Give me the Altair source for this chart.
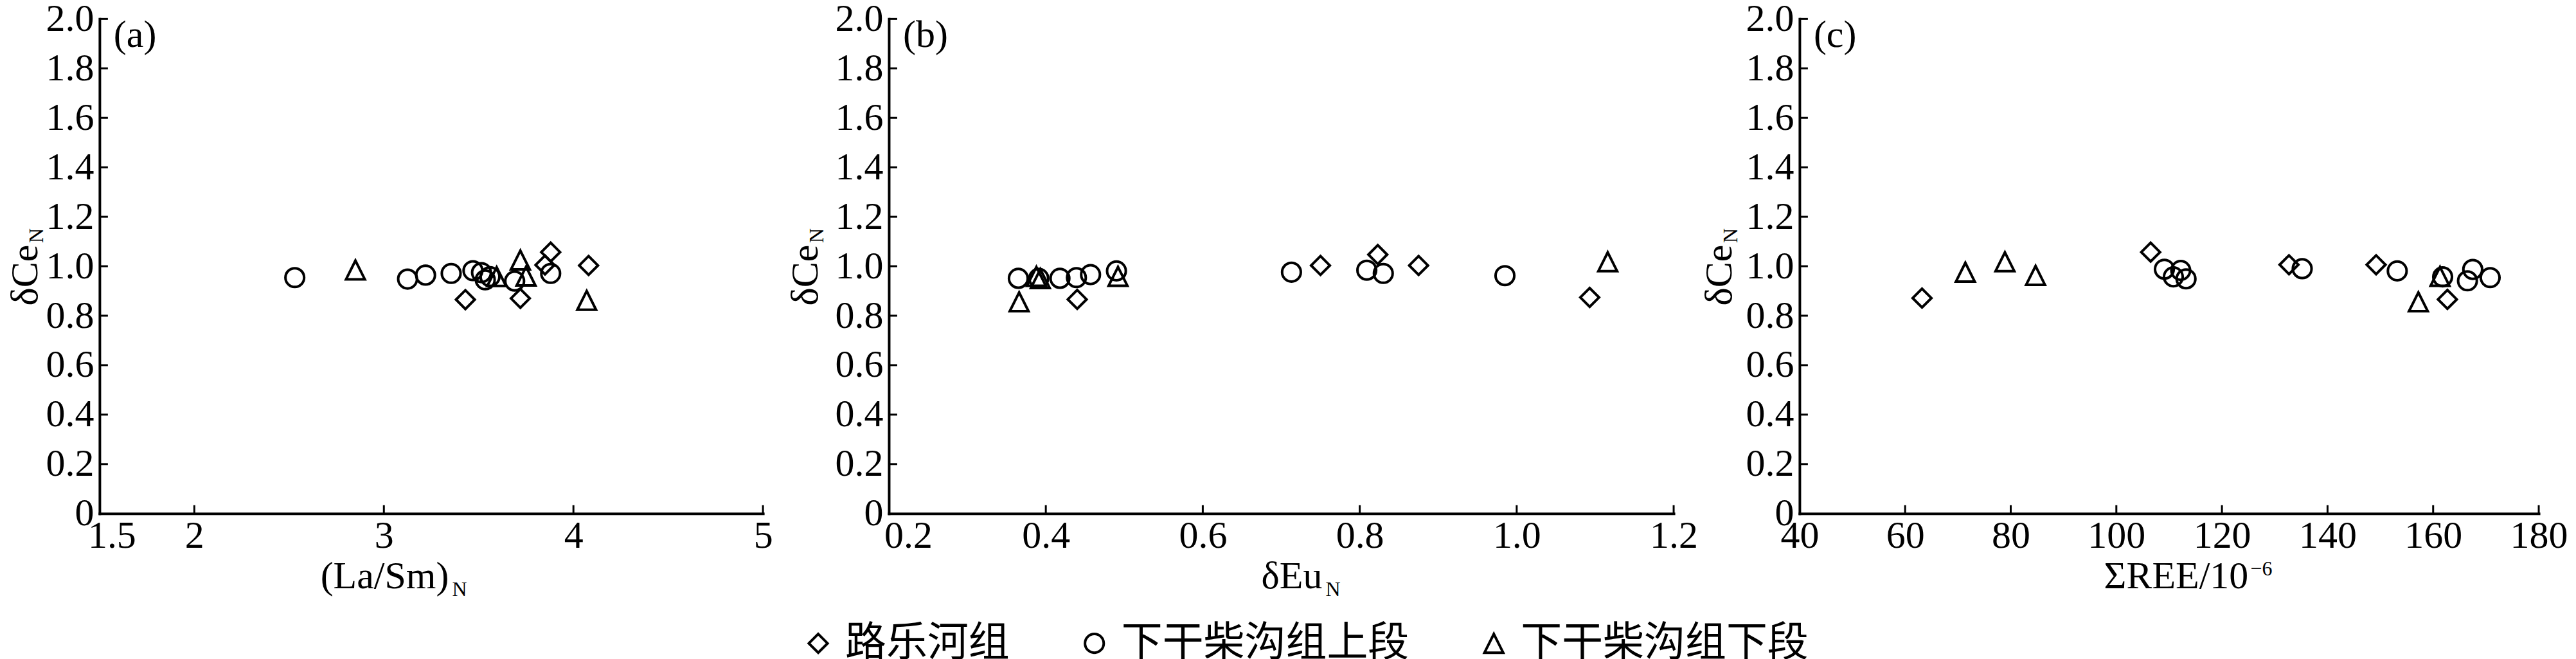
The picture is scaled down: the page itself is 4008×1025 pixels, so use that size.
import altair as alt
import pandas as pd

# ---------------- data ----------------
GROUPS = ["路乐河组", "下干柴沟组上段", "下干柴沟组下段"]

# panel (a): (La/Sm)N vs dCeN
a_lu_x = [3.43, 3.72, 3.85, 3.88, 4.08]
a_lu_y = [0.865, 0.870, 1.005, 1.057, 1.003]
a_up_x = [2.53, 3.125, 3.22, 3.355, 3.47, 3.515, 3.535, 3.56, 3.69, 3.88]
a_up_y = [0.954, 0.948, 0.964, 0.971, 0.982, 0.974, 0.945, 0.958, 0.940, 0.971]
a_lo_x = [2.85, 3.595, 3.72, 3.75, 4.07]
a_lo_y = [0.985, 0.958, 1.025, 0.960, 0.862]

# panel (b): dEuN vs dCeN
b_lu_x = [0.44, 0.75, 0.823, 0.875, 1.093]
b_lu_y = [0.866, 1.003, 1.047, 1.003, 0.874]
b_up_x = [0.365, 0.391, 0.418, 0.439, 0.457, 0.490, 0.713, 0.809, 0.830, 0.985]
b_up_y = [0.951, 0.951, 0.951, 0.954, 0.966, 0.981, 0.976, 0.984, 0.971, 0.962]
b_lo_x = [0.366, 0.388, 0.393, 0.492, 1.116]
b_lo_y = [0.856, 0.959, 0.950, 0.959, 1.018]

# panel (c): SREE vs dCeN
c_lu_x = [63.2, 106.5, 132.7, 149.2, 162.7]
c_lu_y = [0.871, 1.057, 1.006, 1.006, 0.866]
c_up_x = [109.1, 110.8, 112.2, 113.2, 135.2, 153.2, 161.8, 167.5, 166.5, 170.8]
c_up_y = [0.988, 0.957, 0.983, 0.949, 0.990, 0.981, 0.957, 0.987, 0.941, 0.954]
c_lo_x = [71.4, 78.9, 84.7, 157.2, 161.3]
c_lo_y = [0.976, 1.018, 0.963, 0.856, 0.959]

Y_TICKS = [0, 0.2, 0.4, 0.6, 0.8, 1.0, 1.2, 1.4, 1.6, 1.8, 2.0]
A_TICKS = [1.5, 2, 3, 4, 5]
B_TICKS = [0.2, 0.4, 0.6, 0.8, 1.0, 1.2]
C_TICKS = [40, 60, 80, 100, 120, 140, 160, 180]

PANEL_LABELS = ["(a)", "(b)", "(c)"]
X_TITLES = ["(La/Sm)", "δEu", "ΣREE/10"]
Y_TITLE = "δCe"
SUB = "N"
SUP = "−6"

# ---------------- style ----------------
SERIF = "Liberation Serif"
CJK = "Noto Sans CJK SC"
H = 770
TRI = "M0,-1L1,1L-1,1Z"
SHAPES = ["diamond", "circle", TRI]


def frame(lu_x, lu_y, up_x, up_y, lo_x, lo_y):
    rows = []
    for g, xs, ys in zip(GROUPS, [lu_x, up_x, lo_x], [lu_y, up_y, lo_y]):
        for xv, yv in zip(xs, ys):
            rows.append({"x": xv, "y": yv, "group": g})
    return pd.DataFrame(rows)


def txt(s, x, y, size, angle=0, align="left", baseline="alphabetic"):
    return alt.Chart(alt.Data(values=[{"s": s}])).mark_text(
        align=align, baseline=baseline, angle=angle, font=SERIF,
        fontSize=size, color="black"
    ).encode(x=alt.value(x), y=alt.value(y), text="s:N")


LEG = alt.Legend(
    orient="none", legendX=1087, legendY=940, direction="horizontal",
    title=None, labelFont=CJK, labelFontSize=64, labelColor="black",
    labelOffset=10, columnPadding=100, symbolSize=850,
    symbolStrokeWidth=4, symbolStrokeColor="black", padding=0,
    labelLimit=1000,
)


def panel(df, W, xdom, xticks, xlabel_fmt, first_shift, plabel, ytitle_x, xt):
    xs = alt.Scale(domain=xdom, nice=False, zero=False)
    ys = alt.Scale(domain=[0, 2], nice=False, zero=False)
    xax = alt.Axis(values=xticks, format=xlabel_fmt, title=None,
                   labelFlush=False, labelPadding=6, labelOverlap=False,
                   labelOffset={"condition": {"test": f"datum.value == {xticks[0]}",
                                              "value": first_shift},
                                "value": 0})
    yax = alt.Axis(values=Y_TICKS, title=None, labelPadding=9,
                   labelOverlap=False,
                   labelExpr="datum.value == 0 ? '0' : format(datum.value, '.1f')")
    pts = alt.Chart(df).mark_point(
        filled=False, size=850, strokeWidth=4, color="black", opacity=1
    ).encode(
        x=alt.X("x:Q", scale=xs, axis=xax),
        y=alt.Y("y:Q", scale=ys, axis=yax),
        shape=alt.Shape("group:N", scale=alt.Scale(domain=GROUPS, range=SHAPES),
                        legend=LEG),
    )
    yt = alt.Chart(pd.DataFrame({"y": Y_TICKS[1:]})).mark_rule(
        color="black", strokeWidth=3).encode(
        y=alt.Y("y:Q", scale=ys, axis=yax), x=alt.value(0), x2=alt.value(13))
    xtk = alt.Chart(pd.DataFrame({"x": xticks[1:]})).mark_rule(
        color="black", strokeWidth=3).encode(
        x=alt.X("x:Q", scale=xs, axis=xax), y=alt.value(H), y2=alt.value(H - 13))
    layers = [pts, yt, xtk,
              txt(plabel, 22, -3, 60, baseline="top"),
              txt(Y_TITLE, ytitle_x, 399, 60, angle=270, align="center"),
              txt(SUB, ytitle_x + 9, 349, 32, angle=270, align="left")]
    layers += xt
    return alt.layer(*layers).properties(width=W, height=H)


pa = panel(frame(a_lu_x, a_lu_y, a_up_x, a_up_y, a_lo_x, a_lo_y), 1033,
           [1.5, 5], A_TICKS, "~g", 19,
           PANEL_LABELS[0], -97,
           [txt(X_TITLES[0], 344, 886, 60), txt(SUB, 549, 898, 32)])
pb = panel(frame(b_lu_x, b_lu_y, b_up_x, b_up_y, b_lo_x, b_lo_y), 1222,
           [0.2, 1.2], B_TICKS, ".1f", 30,
           PANEL_LABELS[1], -111,
           [txt(X_TITLES[1], 580, 886, 60), txt(SUB, 680, 898, 32)])
pc = panel(frame(c_lu_x, c_lu_y, c_up_x, c_up_y, c_lo_x, c_lo_y), 1151,
           [40, 180], C_TICKS, "d", 0,
           PANEL_LABELS[2], -106,
           [txt(X_TITLES[2], 474, 886, 60), txt(SUP, 702, 866, 32)])

chart = alt.hconcat(pa, pb, pc, spacing=196, bounds="flush").resolve_scale(
    x="independent", y="independent", shape="shared"
).properties(
    padding={"left": 2, "top": -9, "right": 5, "bottom": 5},
    background="white",
).configure_view(stroke=None).configure_axis(
    domainColor="black", domainWidth=4, domainCap="square", ticks=False,
    tickSize=0, grid=False, labelFont=SERIF, labelFontSize=60,
    labelColor="black",
)

chart.save("out.html", embed_options={"renderer": "svg", "actions": False})
